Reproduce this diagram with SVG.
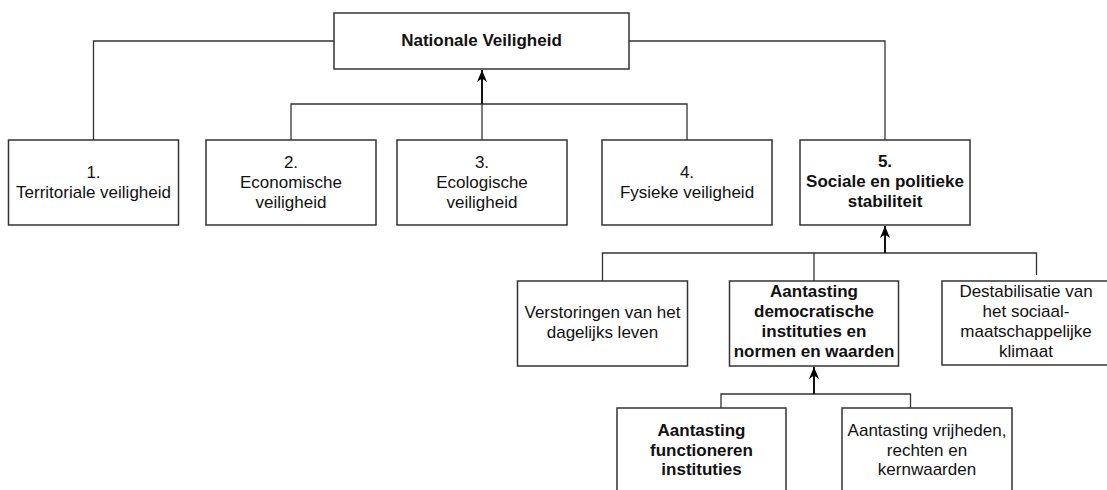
<svg xmlns="http://www.w3.org/2000/svg" width="1107" height="490" viewBox="0 0 1107 490">
<style>
.box{fill:#fff;stroke:#333;stroke-width:1.5}
.t{font-family:"Liberation Sans",Arial,sans-serif;font-size:17px;fill:#111;text-anchor:middle}
.b{font-weight:bold}
.c{fill:none;stroke:#333;stroke-width:1.3}
.c2{fill:none;stroke:#111;stroke-width:2}
</style>
<defs>
<marker id="arr" markerUnits="userSpaceOnUse" markerWidth="14" markerHeight="12" viewBox="-12 -6 14 12" refX="0" refY="0" orient="auto" overflow="visible">
<path d="M0,0 L-12,-5 L-8.5,0 L-12,5 Z" fill="#000"/>
</marker>
</defs>
<rect width="1107" height="490" fill="#fff"/>
<g id="connectors">
<path class="c" d="M334,41 H93.5 V140"/>
<path class="c" d="M629,41 H885 V140"/>
<path class="c" d="M291,140 V104 H482"/>
<path class="c" d="M687,140 V104 H482"/>
<path class="c" d="M482,140 V104"/>
<path class="c2" d="M482,104 V70" marker-end="url(#arr)"/>
<path class="c" d="M602.5,281 V253 H885"/>
<path class="c" d="M814,281 V253"/>
<path class="c" d="M1036.5,275 V253 H885"/>
<path class="c2" d="M885,253 V226" marker-end="url(#arr)"/>
<path class="c" d="M721,408 V394 H814"/>
<path class="c" d="M910.5,408 V394 H814"/>
<path class="c2" d="M814,394 V367" marker-end="url(#arr)"/>
</g>
<g id="nationale">
<rect class="box" x="334" y="13" width="295" height="56"/>
<text class="t b" x="481.5" y="46">Nationale Veiligheid</text>
</g>
<g id="n1">
<rect class="box" x="8.5" y="140" width="170" height="85"/>
<text class="t" x="93.5" y="178">1.</text>
<text class="t" x="93.5" y="198">Territoriale veiligheid</text>
</g>
<g id="n2">
<rect class="box" x="206" y="140" width="170" height="85"/>
<text class="t" x="291" y="168">2.</text>
<text class="t" x="291" y="188">Economische</text>
<text class="t" x="291" y="208">veiligheid</text>
</g>
<g id="n3">
<rect class="box" x="397" y="140" width="170" height="85"/>
<text class="t" x="482" y="168">3.</text>
<text class="t" x="482" y="188">Ecologische</text>
<text class="t" x="482" y="208">veiligheid</text>
</g>
<g id="n4">
<rect class="box" x="602" y="140" width="170" height="85"/>
<text class="t" x="687" y="178">4.</text>
<text class="t" x="687" y="198">Fysieke veiligheid</text>
</g>
<g id="n5">
<rect class="box" x="800" y="140" width="170" height="85"/>
<text class="t b" x="885" y="167">5.</text>
<text class="t b" x="885" y="187">Sociale en politieke</text>
<text class="t b" x="885" y="207">stabiliteit</text>
</g>
<g id="verstoringen">
<rect class="box" x="517.5" y="281" width="170" height="85"/>
<text class="t" x="602.5" y="318">Verstoringen van het</text>
<text class="t" x="602.5" y="338">dagelijks leven</text>
</g>
<g id="democratische">
<rect class="box" x="729.5" y="281" width="169" height="85"/>
<text class="t b" x="814" y="297">Aantasting</text>
<text class="t b" x="814" y="317">democratische</text>
<text class="t b" x="814" y="337">instituties en</text>
<text class="t b" x="814" y="357">normen en waarden</text>
</g>
<g id="destabilisatie">
<rect class="box" x="942" y="281" width="170" height="84"/>
<text class="t" x="1026" y="297">Destabilisatie van</text>
<text class="t" x="1026" y="317">het sociaal-</text>
<text class="t" x="1026" y="337">maatschappelijke</text>
<text class="t" x="1026" y="357">klimaat</text>
</g>
<g id="functioneren">
<rect class="box" x="617" y="408" width="169" height="85"/>
<text class="t b" x="701.5" y="436">Aantasting</text>
<text class="t b" x="701.5" y="456">functioneren</text>
<text class="t b" x="701.5" y="475">instituties</text>
</g>
<g id="vrijheden">
<rect class="box" x="842" y="408" width="170" height="85"/>
<text class="t" x="927" y="436">Aantasting vrijheden,</text>
<text class="t" x="927" y="456">rechten en</text>
<text class="t" x="927" y="475">kernwaarden</text>
</g>
</svg>
